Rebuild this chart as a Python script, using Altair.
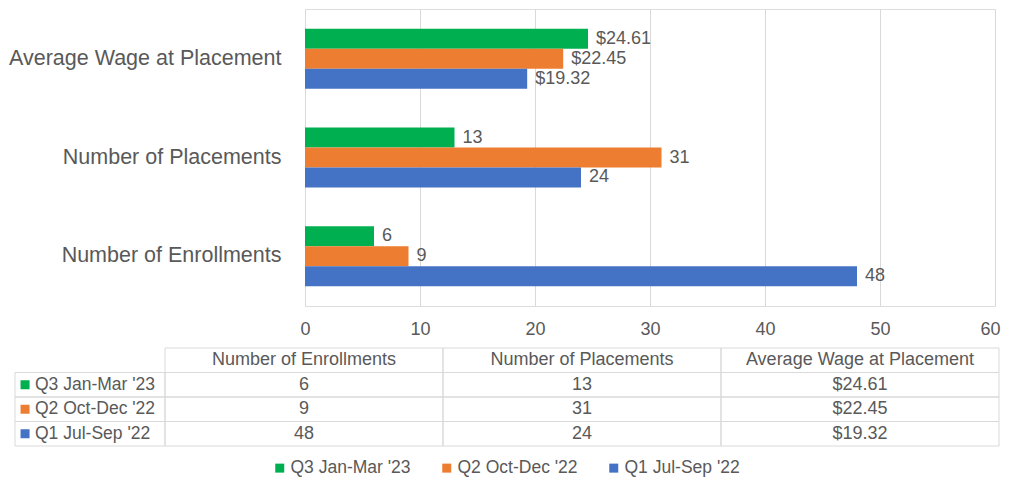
import altair as alt
import pandas as pd

# ---- data ----
categories = ["Average Wage at Placement", "Number of Placements", "Number of Enrollments"]
series = ["Q3 Jan-Mar '23", "Q2 Oct-Dec '22", "Q1 Jul-Sep '22"]
colors = ["#00B050", "#ED7D31", "#4472C4"]
q3_values = [24.61, 13, 6]
q2_values = [22.45, 31, 9]
q1_values = [19.32, 24, 48]
table_columns = ["Number of Enrollments", "Number of Placements", "Average Wage at Placement"]
x_ticks = [0, 10, 20, 30, 40, 50, 60]

TEXT = "#595959"
GRID = "#D9D9D9"
FONT = "Liberation Sans"


def fmt(cat, v):
    return f"${v:.2f}" if cat.startswith("Average") else f"{v:g}"


values_by_series = dict(zip(series, [q3_values, q2_values, q1_values]))

bar_rows = []
for s in series:
    for c, v in zip(categories, values_by_series[s]):
        bar_rows.append({"category": c, "series": s, "value": v, "label": fmt(c, v)})
bars_df = pd.DataFrame(bar_rows)

row_domain = ["header"] + series
cell_rows = []
for col in table_columns:
    cell_rows.append({"row": "header", "col": col, "text": col})
for s in series:
    for col in table_columns:
        v = values_by_series[s][categories.index(col)]
        cell_rows.append({"row": s, "col": col, "text": fmt(col, v)})
cells_df = pd.DataFrame(cell_rows)

rowlab_df = pd.DataFrame({"row": series, "series": series, "lab": ["lab"] * len(series)})

color_scale = alt.Scale(domain=series, range=colors)
legend = alt.Legend(
    orient="none", legendX=-34, legendY=450, direction="horizontal", title=None,
    symbolType="square", symbolSize=81, symbolStrokeWidth=0, labelFontSize=17.5,
    labelColor=TEXT, labelFont=FONT, columnPadding=27, labelOffset=2,
)

# ---- bar chart ----
y_enc = alt.Y("category:N", sort=categories,
              scale=alt.Scale(paddingInner=0.394, paddingOuter=0.2),
              axis=alt.Axis(title=None, labelFontSize=21.5, labelLimit=400, labelPadding=24,
                            ticks=False, domain=False, grid=False, labelColor=TEXT))
yoff = alt.YOffset("series:N", sort=series, scale=alt.Scale(paddingInner=0, paddingOuter=0))
x_enc = alt.X("value:Q", scale=alt.Scale(domain=[0, 60], nice=False),
              axis=alt.Axis(title=None, values=x_ticks, grid=True, gridColor=GRID,
                            domain=False, ticks=False, labelFontSize=18, labelColor=TEXT,
                            labelPadding=14, labelFlush=False,
                            labelAlign=alt.ExprRef(expr="datum.value >= 60 ? 'right' : 'center'"),
                            labelOffset=alt.ExprRef(expr="datum.value >= 60 ? 5 : 0")))

bars = alt.Chart(bars_df).mark_bar().encode(
    y=y_enc, yOffset=yoff, x=x_enc,
    color=alt.Color("series:N", scale=color_scale, legend=legend),
)
labels = alt.Chart(bars_df).mark_text(align="left", baseline="middle", dx=8, fontSize=18,
                                      color=TEXT).encode(
    y=alt.Y("category:N", sort=categories), yOffset=alt.YOffset("series:N", sort=series),
    x=alt.X("value:Q"), text="label:N",
)
bar_layer = alt.layer(bars, labels)

# ---- data table under the chart ----
tx = alt.X("col:N", sort=table_columns, axis=None,
           scale=alt.Scale(domain=table_columns, range=[-140, 694], paddingInner=0, paddingOuter=0))
ty = alt.Y("row:N", sort=row_domain, axis=None,
           scale=alt.Scale(domain=row_domain, range=[339, 437], paddingInner=0, paddingOuter=0))

cell_rect = alt.Chart(cells_df).mark_rect(fillOpacity=0, stroke=GRID, strokeWidth=1).encode(x=tx, y=ty)
cell_text = alt.Chart(cells_df).mark_text(fontSize=18, color=TEXT, baseline="middle").encode(
    x=tx, y=ty, text="text:N")
table_layer = alt.layer(cell_rect, cell_text)

lx_scale = alt.Scale(domain=["lab"], range=[-290, -140], paddingInner=0, paddingOuter=0)
ry = alt.Y("row:N", sort=row_domain, axis=None,
           scale=alt.Scale(domain=row_domain, range=[339, 437], paddingInner=0, paddingOuter=0))
lab_rect = alt.Chart(rowlab_df).mark_rect(fillOpacity=0, stroke=GRID, strokeWidth=1).encode(
    x=alt.X("lab:N", scale=lx_scale, axis=None), y=ry)
lab_sq = alt.Chart(rowlab_df).mark_square(size=81, opacity=1).encode(
    x=alt.X("lab:N", scale=lx_scale, axis=None, bandPosition=0.067), y=ry,
    color=alt.Color("series:N", scale=color_scale, legend=legend))
lab_text = alt.Chart(rowlab_df).mark_text(align="left", baseline="middle", dx=20, fontSize=17.5,
                                          color=TEXT).encode(
    x=alt.X("lab:N", scale=lx_scale, axis=None, bandPosition=0), y=ry, text="series:N")
rowlab_layer = alt.layer(lab_rect, lab_sq, lab_text)

chart = alt.layer(bar_layer, table_layer, rowlab_layer).resolve_scale(
    x="independent", y="independent"
).properties(
    width=690, height=297,
    autosize=alt.AutoSizeParams(type="none"),
    padding={"left": 297, "top": 1, "right": 6, "bottom": 171},
).configure_view(stroke=None).configure(font=FONT)

chart.save("out.html", embed_options={"renderer": "svg", "actions": False})
